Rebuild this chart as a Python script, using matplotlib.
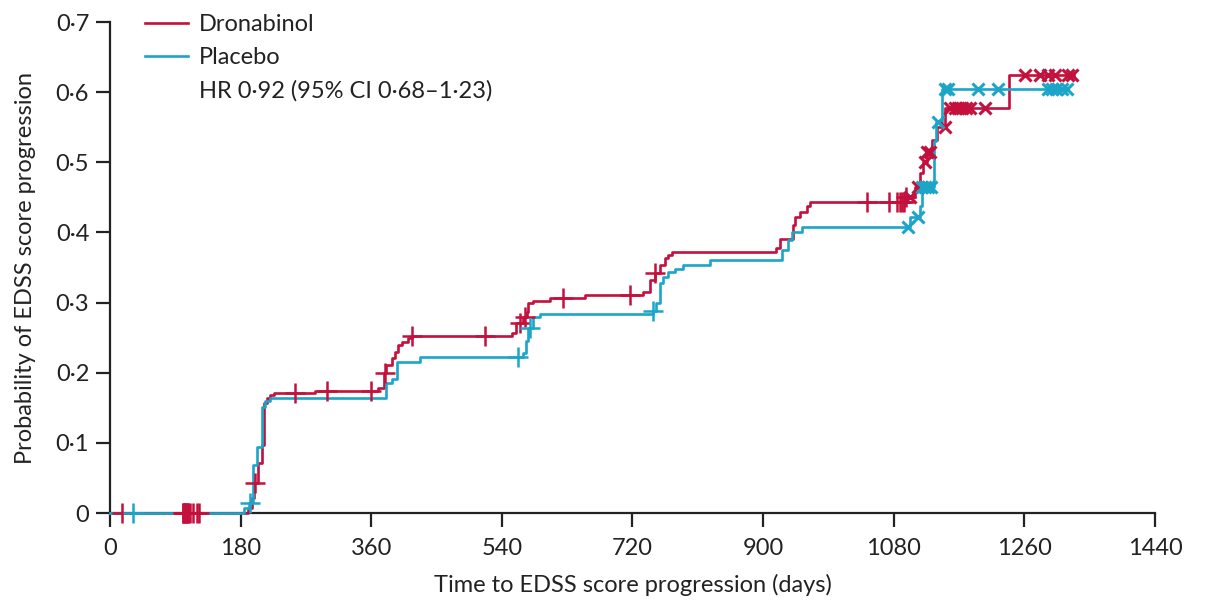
import numpy as np
import matplotlib.pyplot as plt
from matplotlib.lines import Line2D

# Kaplan-Meier style cumulative probability of EDSS progression
# step points: time (days) where the curve jumps, value after the jump
drona_t = [190, 196, 198, 204, 209, 212, 216, 220, 226, 282, 369, 378, 380, 389, 393,
           397, 402, 411, 416, 554, 559, 569, 575, 576, 583, 606, 655, 734, 744, 751,
           758, 765, 769, 774, 918, 923, 941, 944, 951, 960, 965, 1095, 1109, 1116,
           1120, 1126, 1133, 1140, 1151, 1239]
drona_p = [0.007, 0.021, 0.043, 0.071, 0.097, 0.157, 0.164, 0.168, 0.171, 0.174, 0.178,
           0.2, 0.211, 0.221, 0.23, 0.24, 0.244, 0.25, 0.2525, 0.257, 0.271, 0.28, 0.287,
           0.3, 0.302, 0.306, 0.311, 0.315, 0.332, 0.342, 0.354, 0.364, 0.368, 0.372,
           0.378, 0.391, 0.411, 0.422, 0.429, 0.437, 0.443, 0.45, 0.465, 0.485, 0.5,
           0.515, 0.532, 0.551, 0.577, 0.624]
drona_end = 1328
drona_cens_bar = [16, 100, 101, 102, 103, 104, 105, 106, 107, 108, 110, 114, 120, 123,
                  200, 255, 299, 360, 379, 416, 517, 565, 572, 624, 717, 751, 1043, 1073,
                  1084, 1089, 1091, 1094, 1097]
drona_cens_x = [1102, 1113, 1123, 1126, 1130, 1150, 1157, 1164, 1169, 1174, 1180, 1185,
                1206, 1261, 1282, 1293, 1302, 1320, 1326]

plac_t = [185, 192, 197, 203, 209, 214, 220, 380, 389, 395, 427, 569, 573, 576, 583,
          593, 748, 752, 758, 762, 769, 779, 790, 827, 926, 934, 940, 954, 1102, 1116,
          1119, 1135, 1138, 1146]
plac_p = [0.007, 0.014, 0.068, 0.094, 0.151, 0.16, 0.164, 0.185, 0.191, 0.215, 0.222,
          0.228, 0.245, 0.264, 0.28, 0.284, 0.288, 0.3, 0.328, 0.337, 0.344, 0.348,
          0.354, 0.361, 0.375, 0.389, 0.401, 0.408, 0.422, 0.437, 0.465, 0.53, 0.558,
          0.605]
plac_end = 1319
plac_cens_bar = [32, 193, 562, 579, 748]
plac_cens_x = [1100, 1113, 1119, 1123, 1127, 1131, 1141, 1151, 1155, 1196, 1224, 1293,
               1298, 1304, 1312, 1319]

red = '#c4103c'
blue = '#1ba6c9'
ink = '#222222'

plt.rcParams['font.family'] = ['Lato', 'DejaVu Sans']


def curve(t, p, end):
    tt = np.concatenate([[0], t, [end]])
    pp = np.concatenate([[0], p, [p[-1]]])
    return tt, pp


def value_at(c, t, p):
    tt = np.concatenate([[0], t])
    pp = np.concatenate([[0], p])
    idx = np.searchsorted(tt, c, side='right') - 1
    return pp[idx]


fig = plt.figure(figsize=(12.06, 6.08), dpi=100)
ax = fig.add_axes([0.0912, 0.1562, 0.8665, 0.8076])

rt, rp = curve(drona_t, drona_p, drona_end)
bt, bp = curve(plac_t, plac_p, plac_end)
l1, = ax.step(rt, rp, where='post', color=red, lw=1.9, zorder=3, clip_on=False)
l2, = ax.step(bt, bp, where='post', color=blue, lw=1.9, zorder=4, clip_on=False)

ax.plot(drona_cens_bar, value_at(np.array(drona_cens_bar), drona_t, drona_p), ls='none',
        marker='+', ms=14, mew=1.8, color=red, zorder=5, clip_on=False)
ax.plot(drona_cens_x, value_at(np.array(drona_cens_x), drona_t, drona_p), ls='none',
        marker='x', ms=8, mew=2.2, color=red, zorder=5, clip_on=False)
ax.plot(plac_cens_bar, value_at(np.array(plac_cens_bar), plac_t, plac_p), ls='none',
        marker='+', ms=14, mew=1.8, color=blue, zorder=6, clip_on=False)
ax.plot(plac_cens_x, value_at(np.array(plac_cens_x), plac_t, plac_p), ls='none',
        marker='x', ms=8, mew=2.2, color=blue, zorder=6, clip_on=False)

ax.set_xlim(0, 1440)
ax.set_ylim(0, 0.7)
xt = [0, 180, 360, 540, 720, 900, 1080, 1260, 1440]
ax.set_xticks(xt)
ax.set_xticklabels([str(v) for v in xt])
yt = [0, 0.1, 0.2, 0.3, 0.4, 0.5, 0.6, 0.7]
ax.set_yticks(yt)
ax.set_yticklabels(['0'] + [('%.1f' % v).replace('.', '\u00b7') for v in yt[1:]])

for s in ['top', 'right']:
    ax.spines[s].set_visible(False)
for s in ['left', 'bottom']:
    ax.spines[s].set_linewidth(1.6)
    ax.spines[s].set_color(ink)
    ax.spines[s].set_zorder(2)
ax.tick_params(axis='both', direction='out', length=10, width=1.6, color=ink,
               labelsize=17, labelcolor=ink)
ax.tick_params(axis='x', pad=8)
ax.tick_params(axis='y', pad=5)

ax.set_xlabel('Time to EDSS score progression (days)', fontsize=17, color=ink,
              labelpad=11)
ax.set_ylabel('Probability of EDSS score progression', fontsize=17, color=ink,
              labelpad=14)

hr = Line2D([], [], color='none')
ax.legend([l1, l2, hr], ['Dronabinol', 'Placebo', 'HR 0\u00b792 (95% CI 0\u00b768\u20131\u00b723)'],
          loc='upper left', bbox_to_anchor=(0.024, 1.035), frameon=False, fontsize=17,
          handlelength=1.85, handletextpad=0.45, labelspacing=0.5, borderaxespad=0,
          labelcolor=ink)

fig.savefig('out.png', dpi=100)
